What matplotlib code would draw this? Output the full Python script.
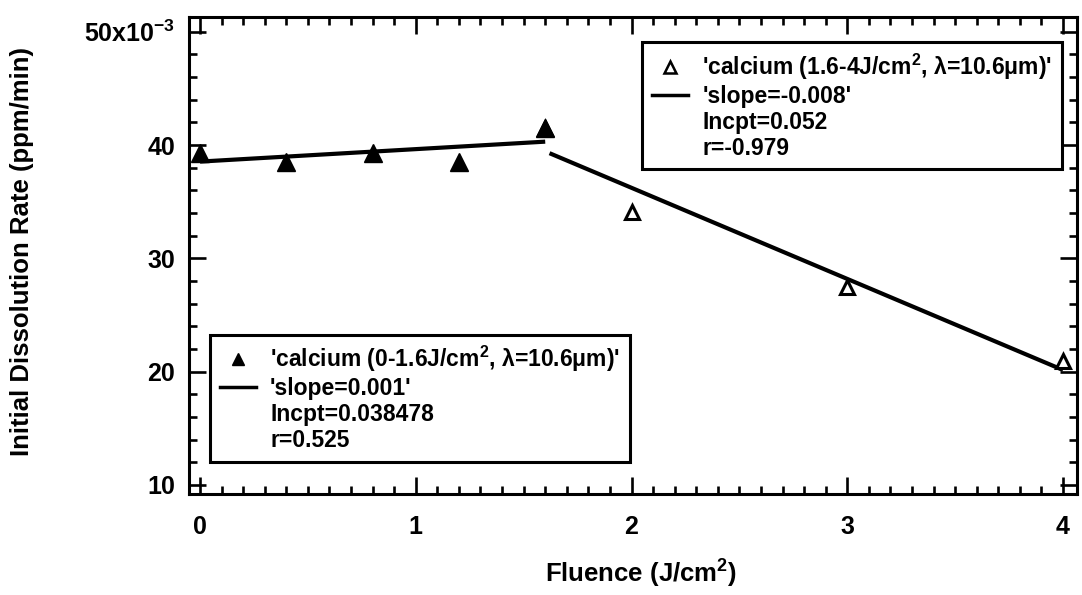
import numpy as np
import matplotlib
matplotlib.use("Agg")
import matplotlib.pyplot as plt
from matplotlib.lines import Line2D
from matplotlib.ticker import MultipleLocator

plt.rcParams['font.family'] = ['Liberation Sans', 'DejaVu Sans']
plt.rcParams['font.weight'] = 'bold'
plt.rcParams['axes.labelweight'] = 'bold'
plt.rcParams['mathtext.fontset'] = 'custom'
plt.rcParams['mathtext.rm'] = 'Liberation Sans:bold'
plt.rcParams['mathtext.default'] = 'rm'

# Data (rate in units of 1e-3 ppm/min)
fluence_low = [0.0, 0.4, 0.8, 1.2, 1.6]
rate_low = [39.3, 38.5, 39.3, 38.5, 41.5]
fluence_high = [1.6, 2.0, 3.0, 4.0]
rate_high = [41.5, 34.1, 27.5, 20.9]

label_low = "'calcium (0-1.6J/cm$^2$, λ=10.6μm)'"
fit_low_lines = ["'slope=0.001'", "Incpt=0.038478", "r=0.525"]
label_high = "'calcium (1.6-4J/cm$^2$, λ=10.6μm)'"
fit_high_lines = ["'slope=-0.008'", "Incpt=0.052", "r=-0.979"]

yticks = [10, 20, 30, 40, 50]
ytick_labels = ['10', '20', '30', '40', '50x10$^{-3}$']
xticks = [0, 1, 2, 3, 4]

fig = plt.figure(figsize=(10.82, 5.95), dpi=100)
ax = fig.add_axes([0.1747, 0.1697, 0.8207, 0.8017])

# fits
p_low = np.polyfit(fluence_low, rate_low, 1)
p_high = np.polyfit(fluence_high, rate_high, 1)
xl = np.array([min(fluence_low), max(fluence_low)])
xh = np.array([min(fluence_high) + 0.02, max(fluence_high)])

ax.plot(xh, np.polyval(p_high, xh), color='black', lw=3, solid_capstyle='butt')
ax.plot(xl, np.polyval(p_low, xl), color='black', lw=3, solid_capstyle='butt')
ax.plot(fluence_high, rate_high, linestyle='none', marker='^', ms=10.5,
        mfc='white', mec='black', mew=2.2)
ax.plot(fluence_low, rate_low, linestyle='none', marker='^', ms=12.5,
        mfc='black', mec='black')

ax.set_xlim(-0.051, 4.065)
ax.set_ylim(9.2, 51.3)
ax.set_xticks(xticks)
ax.set_xticklabels([str(t) for t in xticks])
ax.set_yticks(yticks)
ax.set_yticklabels(ytick_labels)
ax.xaxis.set_minor_locator(MultipleLocator(0.1))
ax.yaxis.set_minor_locator(MultipleLocator(2))
ax.tick_params(which='both', direction='in', top=True, right=True, width=1.9)
ax.tick_params(which='major', length=12.5, labelsize=18)
ax.tick_params(axis='x', which='major', pad=15)
ax.tick_params(axis='y', which='major', pad=10)
ax.tick_params(which='minor', length=5.5)
for s in ax.spines.values():
    s.set_linewidth(2.2)

ax.set_xlabel('Fluence (J/cm$^2$)', fontsize=18.5, fontweight='bold')
ax.xaxis.set_label_coords(0.509, -0.133)
ax.set_ylabel('Initial Dissolution Rate (ppm/min)', fontsize=18.5, fontweight='bold')
ax.yaxis.set_label_coords(-0.1745, 0.509)

def make_legend(marker_kw, label, fit_lines, loc, anchor):
    handles = [Line2D([], [], linestyle='none', marker='^', **marker_kw),
               Line2D([], [], color='black', lw=2.5)]
    labels = [label, fit_lines[0]]
    for t in fit_lines[1:]:
        handles.append(Line2D([], [], color='none'))
        labels.append(t)
    leg = ax.legend(handles, labels, loc=loc, bbox_to_anchor=anchor,
                    frameon=True, fancybox=False, framealpha=1,
                    edgecolor='black', fontsize=16.5, labelspacing=0.13,
                    handlelength=1.6, handletextpad=0.6, borderpad=0.42,
                    borderaxespad=0)
    leg.get_frame().set_linewidth(2.2)
    return leg

leg1 = make_legend(dict(ms=8, mfc='white', mec='black', mew=1.8), label_high,
                   fit_high_lines, 'upper right', (0.983, 0.9476))
ax.add_artist(leg1)
make_legend(dict(ms=9, mfc='black', mec='black'), label_low,
            fit_low_lines, 'lower left', (0.0236, 0.0671))

fig.savefig('out.png', dpi=100)
